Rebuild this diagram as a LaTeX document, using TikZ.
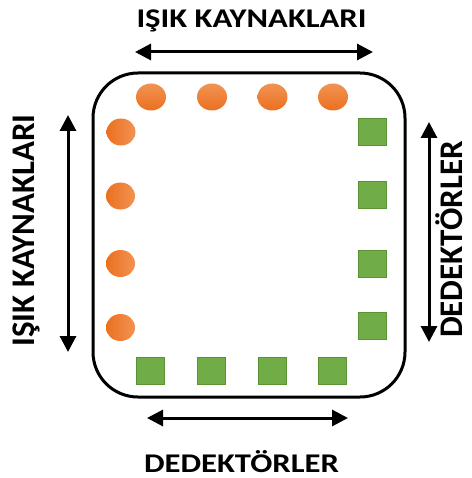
\documentclass[tikz,border=0pt]{standalone}
\usepackage{fontspec}
\setmainfont{Carlito}
\usetikzlibrary{arrows.meta,shapes.geometric}
\definecolor{orangeLight}{HTML}{F29352}
\definecolor{orangeDark}{HTML}{EB7020}
\definecolor{detGreen}{HTML}{70AD47}
\definecolor{detEdge}{HTML}{5A9236}
\tikzset{
  frame/.style={draw=black, line width=3pt, rounded corners=45pt},
  srcTop/.style={ellipse, minimum width=30pt, minimum height=27pt, inner sep=0pt,
    top color=orangeLight, bottom color=orangeDark, draw=none},
  srcSide/.style={ellipse, minimum width=29pt, minimum height=27pt, inner sep=0pt,
    left color=orangeDark, right color=orangeLight, draw=none},
  detector/.style={rectangle, minimum width=28pt, minimum height=27pt, inner sep=0pt,
    fill=detGreen, draw=detEdge, line width=0.8pt},
  dimarrow/.style={line width=3pt, {Triangle[length=16pt,width=16pt]}-{Triangle[length=16pt,width=16pt]}},
  caption/.style={font=\fontsize{27}{30}\selectfont\bfseries, inner sep=0pt, anchor=base, xscale=1.21},
  sidecaption/.style={font=\fontsize{33}{37}\selectfont\bfseries, inner sep=0pt, anchor=base, rotate=90}
}
\begin{document}
\begin{tikzpicture}[x=1pt,y=-1pt]
  \useasboundingbox (0,0) rectangle (471,478);

  % housing
  \draw[frame] (93,73) rectangle (405,397);

  % light sources along the top edge
  \node[srcTop] (st1) at (151,97) {};
  \node[srcTop] (st2) at (212,97) {};
  \node[srcTop] (st3) at (272.5,97) {};
  \node[srcTop] (st4) at (333,97) {};

  % light sources along the left edge
  \node[srcSide] (sl1) at (121,132) {};
  \node[srcSide] (sl2) at (120.5,196) {};
  \node[srcSide] (sl3) at (120.5,263.5) {};
  \node[srcSide] (sl4) at (120.5,327.5) {};

  % detectors along the right edge
  \node[detector] (dr1) at (372.5,132) {};
  \node[detector] (dr2) at (372.5,195) {};
  \node[detector] (dr3) at (372.5,263.5) {};
  \node[detector] (dr4) at (372.5,326) {};

  % detectors along the bottom edge
  \node[detector] (db1) at (150,370.5) {};
  \node[detector] (db2) at (211.5,370.5) {};
  \node[detector] (db3) at (272,370.5) {};
  \node[detector] (db4) at (332.5,370.5) {};

  % dimension arrows
  \coordinate (ta) at (135,52);   \coordinate (tb) at (373,52);
  \coordinate (la) at (68,115);   \coordinate (lb) at (68,352);
  \coordinate (ra) at (429,122);  \coordinate (rb) at (429,342);
  \coordinate (ba) at (147,418);  \coordinate (bb) at (348,418);
  \draw[dimarrow] (ta) -- (tb);
  \draw[dimarrow] (la) -- (lb);
  \draw[dimarrow] (ra) -- (rb);
  \draw[dimarrow] (ba) -- (bb);

  % labels
  \node[caption] (ltop) at (251.5,28) {IŞIK KAYNAKLARI};
  \node[sidecaption] (lleft) at (34,230.5) {IŞIK KAYNAKLARI};
  \node[sidecaption] (lright) at (462.5,239.5) {DEDEKTÖRLER};
  \node[caption] (lbot) at (241.5,472) {DEDEKTÖRLER};
\end{tikzpicture}
\end{document}
